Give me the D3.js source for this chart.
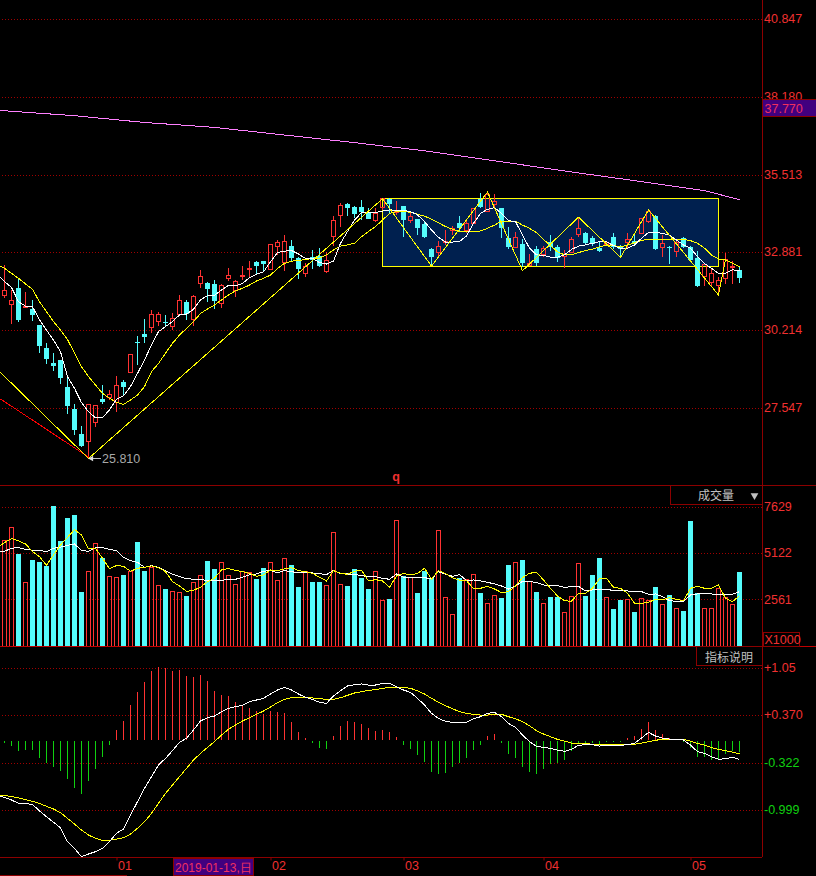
<!DOCTYPE html>
<html lang="zh">
<head>
  <meta charset="UTF-8">
  <title>K线</title>
  <script src="https://d3js.org/d3.v7.min.js"></script>
  <style>
    body { margin: 0; background: #000; }
    svg { display: block; font-family: "Liberation Sans", Arial, sans-serif; font-size: 12.5px; }
    .cjk { font-family: "Noto Sans CJK SC", sans-serif; font-size: 12px; fill: #c0c0c0; }
    .axis .domain { display: none; }
    .axis .tick line { stroke: #a00000; stroke-dasharray: 1 2; shape-rendering: crispEdges; }
    .line { fill: none; stroke-width: 1; shape-rendering: crispEdges; }
    .crisp { shape-rendering: crispEdges; }
  </style>
</head>
<body>
  <div id="chart"></div>
  <script>
    const open = [31.40,31.07,31.64,30.99,30.91,30.37,29.59,29.07,29.18,28.26,
      27.50,26.65,26.39,27.04,27.84,27.88,27.72,28.43,28.75,29.79,
      30.07,30.28,30.48,30.48,30.31,30.74,31.16,30.57,31.79,31.81,
      31.78,31.12,31.95,31.56,32.05,32.29,32.53,32.56,32.28,33.05,
      32.51,33.07,32.67,32.14,32.70,32.73,32.22,33.39,34.11,34.51,
      34.41,34.41,34.24,33.96,34.39,34.68,34.24,34.44,33.96,34.00,
      33.83,32.97,32.87,33.20,33.59,33.86,33.59,33.86,34.68,34.27,
      34.51,34.37,33.35,33.04,33.14,32.41,32.97,32.77,33.21,33.04,
      32.70,32.87,33.46,33.52,33.35,33.01,33.11,33.38,33.07,33.21,
      33.25,33.52,33.93,34.10,33.04,33.05,32.90,33.35,33.04,32.67,
      32.02,31.84,31.74,31.95,32.36,32.26];
    const close = [31.56,31.22,30.55,31.02,30.72,29.66,29.21,28.97,28.55,27.61,
      26.78,26.24,27.66,27.63,27.74,28.00,28.31,28.26,29.38,29.76,
      29.96,30.74,30.74,30.44,30.60,31.22,30.74,31.35,32.04,31.61,
      31.20,31.73,32.06,31.87,32.08,32.32,32.39,32.47,33.14,33.20,
      33.24,32.67,32.29,32.39,32.60,32.39,32.59,33.95,34.47,34.37,
      34.17,34.24,34.00,34.17,34.69,34.51,34.27,33.96,34.10,33.69,
      33.38,32.70,33.07,33.23,33.66,33.69,33.83,34.37,34.41,34.82,
      34.60,33.69,33.04,33.35,32.49,32.48,32.49,33.00,33.04,32.67,
      32.80,33.31,33.68,33.18,33.14,32.90,33.21,33.04,32.97,33.30,
      33.18,34.02,34.27,32.97,33.17,33.02,33.21,33.04,32.60,31.71,
      32.43,32.14,31.90,32.60,32.38,31.98];
    const high = [32.43,31.57,31.97,31.50,31.23,30.37,29.76,29.42,29.18,28.60,
      27.67,26.92,27.66,27.63,28.32,28.15,28.63,28.50,29.38,30.00,
      30.58,30.89,30.82,30.72,30.79,31.40,31.23,31.39,32.26,31.84,
      31.91,31.77,32.32,31.91,32.39,32.56,32.56,32.56,33.14,33.28,
      33.45,33.28,32.70,32.48,32.94,33.01,32.87,34.10,34.55,34.55,
      34.44,34.65,34.37,34.37,34.72,34.72,34.61,34.44,34.24,34.00,
      33.90,33.01,33.25,33.62,33.76,34.10,33.96,34.37,34.89,34.92,
      34.85,34.37,33.73,33.55,33.31,32.80,33.07,33.07,33.45,33.11,
      32.94,33.38,34.06,33.57,33.42,33.25,33.25,33.52,33.11,33.52,
      33.45,34.04,34.31,34.14,33.45,33.07,33.31,33.38,33.07,32.90,
      32.48,32.31,32.03,32.84,32.56,32.39];
    const low = [31.29,30.41,30.48,30.96,30.51,29.42,29.04,28.80,28.36,27.33,
      26.61,26.22,25.81,26.89,27.67,27.81,27.40,27.98,28.75,29.01,
      29.76,30.10,30.34,30.34,30.20,30.72,30.55,30.34,31.64,31.16,
      30.92,30.96,31.88,31.32,31.91,31.98,32.12,32.19,32.28,32.77,
      32.22,32.53,31.95,32.03,32.29,32.36,32.15,33.07,33.73,34.10,
      34.03,33.96,33.99,33.90,34.31,34.19,34.14,33.38,33.86,33.45,
      33.35,32.39,32.73,33.11,33.45,33.55,33.52,33.83,34.37,34.24,
      34.41,33.35,32.97,33.01,32.35,32.39,32.39,32.71,32.90,32.53,
      32.33,32.82,33.39,33.11,33.07,32.87,33.07,32.97,32.73,33.01,
      33.07,33.49,33.85,32.94,32.69,32.46,32.69,33.01,32.56,31.67,
      31.71,31.69,31.40,31.78,31.78,31.81];

    // the line series below start one bar before the first candle, off the left edge
    const priceWhite = [32.11,31.86,31.66,31.17,31.02,31.00,30.55,30.20,29.86,29.46,28.61,
      28.21,27.72,27.41,27.20,27.21,27.47,27.84,27.95,28.27,28.72,
      29.18,29.69,30.15,30.32,30.49,30.72,30.75,30.91,31.23,31.38,
      31.39,31.57,31.73,31.71,31.80,31.99,32.11,32.19,32.54,32.85,
      32.90,32.92,32.80,32.65,32.65,32.51,32.46,32.56,33.17,33.57,
      33.96,34.22,34.22,34.22,34.27,34.31,34.30,34.30,34.25,34.14,
      33.91,33.62,33.37,33.21,33.21,33.23,33.42,33.85,34.19,34.33,
      34.39,34.19,33.94,33.91,33.45,33.00,32.77,32.76,32.69,32.69,
      32.77,32.96,33.07,33.11,33.17,33.22,33.22,33.09,33.00,33.00,
      33.11,33.34,33.54,33.54,33.51,33.45,33.28,33.11,33.00,32.71,
      32.48,32.31,32.14,32.14,32.26,32.23];
    const priceYellow = [32.43,32.31,32.14,31.97,31.78,31.59,31.17,30.83,30.49,30.20,29.88,
      29.41,28.95,28.61,28.32,28.04,27.87,27.73,27.66,27.81,27.98,
      28.27,28.78,29.06,29.41,29.75,30.03,30.26,30.49,30.77,30.92,
      31.06,31.23,31.40,31.54,31.63,31.74,31.88,31.97,32.08,32.31,
      32.48,32.56,32.57,32.62,32.64,32.65,32.77,32.94,33.07,33.11,
      33.17,33.39,33.57,33.74,33.96,34.19,34.25,34.25,34.23,34.16,
      34.10,33.99,33.87,33.74,33.65,33.57,33.57,33.57,33.59,33.68,
      33.79,33.92,33.93,33.93,33.79,33.68,33.53,33.30,33.09,32.88,
      32.77,32.77,32.85,32.92,32.97,33.05,33.10,33.09,33.05,33.10,
      33.19,33.27,33.30,33.30,33.30,33.30,33.30,33.30,33.26,33.17,
      33.00,32.77,32.63,32.60,32.48,32.37];

    const pinkIdx = [-0.6,10,20,30,40,50,60,70,80,90,100,105];
    const pinkPrice = [37.71,37.53,37.30,37.13,36.87,36.61,36.33,35.99,35.64,35.31,34.97,34.66];
    const pivotIdx = [-0.6,12,54,61,69,74,82,88,92,102,103,105];
    const pivotPrice = [28.76,25.81,34.69,32.39,34.92,32.23,34.06,32.69,34.31,31.40,32.60,32.37];
    const trendIdx = [-0.6,12.5];
    const trendPrice = [27.85,25.78];
    const boxIdx = [54,102];
    const boxPrice = [34.70,32.38];

    const volume = [5795,6508,5045,3491,4716,4607,4387,7678,5758,7020,
      7184,2961,4095,5630,4826,3821,3766,3894,4095,5703,
      4113,4314,3327,3126,2998,2943,2742,3491,3875,4661,
      4223,4588,3875,3382,4095,4040,3674,4278,4588,3601,
      4808,4442,3236,4058,3510,3510,3327,6233,3382,3290,
      4223,3729,3126,4095,2504,2577,6892,3839,3729,2907,
      4113,3729,6343,2669,1737,3729,3619,3930,2907,2340,
      2779,2632,4442,4588,4716,3546,2961,2340,2687,2687,
      1846,2724,4533,2742,3894,4826,2669,2029,2523,2559,
      1865,2614,2504,3236,2285,2797,2066,1919,6855,2888,
      2066,2066,3126,2669,2285,4058];
    const volWhite = [5155,5192,5356,5393,5301,5246,5246,5173,5356,5411,5521,
      5594,5228,5192,5393,5393,5301,5228,4862,4680,4588,
      4314,4405,4314,4131,3930,3802,3693,3656,3656,3583,
      3565,3601,3638,3656,3766,3894,3948,4095,4131,4022,
      4131,4076,4003,4040,4003,3967,3912,4150,3967,3948,
      3930,3857,3802,3802,3711,3656,3948,3766,3747,3747,
      3747,3674,4076,3930,3821,3912,3601,3619,3565,3491,
      3400,3290,3126,3290,3546,3546,3473,3345,3290,3309,
      3217,3254,3272,3016,3071,3108,3089,3053,3016,3016,
      2998,2980,2833,2852,2705,2486,2450,2450,2797,2852,
      2852,2852,2833,2833,2833,2980];
    const volYellow = [5393,5667,5886,5758,5594,5173,4899,4424,4990,5539,5959,
      6380,6087,5338,5356,4808,4241,4405,4369,4095,4259,
      4314,4387,4296,4076,3528,3290,2998,3053,3217,3528,
      3711,4168,4241,4150,4076,3985,3821,3894,4168,4131,
      4223,4296,4131,4076,3985,3766,3565,4131,3985,3930,
      4095,4150,3565,3638,3565,3217,3839,3967,3912,3967,
      4259,3674,4131,3967,3729,3601,3583,3144,3162,3272,
      3126,2925,2980,3290,3747,3985,4040,3619,3162,2742,
      2486,2450,2888,2888,3162,3693,3711,3217,3162,2888,
      2340,2340,2395,2559,2523,2651,2559,2486,3162,3272,
      3162,3162,3345,2614,2431,2760];

    const macdBar = [-0.03,-0.065,-0.147,-0.123,-0.123,-0.238,-0.32,-0.378,-0.426,-0.541,
      -0.671,-0.758,-0.57,-0.397,-0.224,-0.05,0.152,0.281,0.512,0.70,
      0.844,1.003,1.06,1.046,1.003,1.017,0.931,0.916,0.945,0.859,
      0.714,0.657,0.642,0.556,0.512,0.469,0.426,0.382,0.426,0.411,
      0.397,0.267,0.123,0.036,-0.022,-0.094,-0.108,0.065,0.209,0.281,
      0.267,0.238,0.18,0.137,0.152,0.123,0.05,-0.05,-0.108,-0.195,
      -0.296,-0.44,-0.469,-0.455,-0.368,-0.31,-0.238,-0.123,-0.05,0.065,
      0.094,-0.022,-0.18,-0.238,-0.368,-0.44,-0.469,-0.397,-0.325,-0.31,
      -0.267,-0.137,-0.036,-0.022,-0.022,-0.036,-0.01,-0.01,-0.01,0.036,
      0.065,0.161,0.267,0.152,0.094,0.03,0.005,-0.005,-0.1,-0.233,
      -0.233,-0.267,-0.267,-0.18,-0.137,-0.151];
    const macdWhite = [-0.804,-0.824,-0.862,-0.91,-0.915,-0.925,-1.021,-1.103,-1.184,-1.261,-1.463,
      -1.56,-1.68,-1.641,-1.608,-1.56,-1.463,-1.343,-1.28,-1.079,-0.886,
      -0.694,-0.526,-0.357,-0.261,-0.15,-0.03,0.028,0.148,0.278,0.326,
      0.35,0.412,0.461,0.485,0.504,0.557,0.581,0.605,0.668,0.725,
      0.764,0.725,0.667,0.619,0.59,0.547,0.533,0.639,0.716,0.783,
      0.802,0.812,0.797,0.797,0.821,0.821,0.773,0.725,0.691,0.605,
      0.509,0.388,0.316,0.273,0.259,0.259,0.259,0.311,0.34,0.388,
      0.403,0.34,0.244,0.186,0.076,-0.02,-0.088,-0.102,-0.117,-0.141,
      -0.16,-0.131,-0.073,-0.064,-0.064,-0.083,-0.069,-0.073,-0.073,-0.064,
      -0.045,0.032,0.114,0.061,0.032,0.018,0.013,0.004,-0.069,-0.165,
      -0.189,-0.237,-0.275,-0.266,-0.246,-0.275];
    const macdYellow = [-0.795,-0.80,-0.809,-0.833,-0.857,-0.881,-0.91,-0.954,-0.992,-1.045,-1.127,
      -1.209,-1.295,-1.367,-1.415,-1.444,-1.444,-1.425,-1.406,-1.353,-1.271,
      -1.175,-1.055,-0.91,-0.766,-0.646,-0.526,-0.405,-0.285,-0.189,-0.102,
      -0.02,0.076,0.158,0.22,0.278,0.326,0.374,0.422,0.48,0.542,
      0.59,0.614,0.619,0.619,0.61,0.60,0.59,0.59,0.614,0.648,
      0.682,0.701,0.72,0.73,0.749,0.764,0.764,0.764,0.749,0.715,
      0.667,0.605,0.547,0.499,0.456,0.412,0.388,0.374,0.364,0.364,
      0.374,0.374,0.34,0.311,0.268,0.21,0.138,0.09,0.052,0.013,
      -0.011,-0.04,-0.045,-0.045,-0.059,-0.064,-0.064,-0.064,-0.064,-0.059,
      -0.059,-0.04,-0.02,0,0.013,0.013,0.013,0.013,-0.011,-0.045,
      -0.069,-0.107,-0.131,-0.15,-0.17,-0.198];

    const priceTicks = [40.847,38.180,35.513,32.881,30.214,27.547];
    const volTicks = [7629,5122,2561];
    const macdTicks = [1.05,0.370,-0.322,-0.999];
    const macdTickLabels = ["+1.05","+0.370","-0.322","-0.999"];
    const monthIdx = [16,38,57,77,98];
    const monthLabels = ["01","02","03","04","05"];
    const lowLabel = "25.810";
    const lastLabel = "37.770";
    const dateLabel = "2019-01-13,日";

    const RED = "#ff3232", CYAN = "#54fcfc", FRAME = "#8c0000", PURPLE = "#41007f", LABEL = "#f03030";
    const W = 816, H = 876, plotRight = 762;

    const svg = d3.select("#chart").append("svg").attr("width", W).attr("height", H);

    const x = d3.scaleLinear().domain([0, 105]).range([4.5, 739.5]);
    const yPrice = d3.scaleLinear().domain([27.547, 40.847]).range([407.7, 18.7]);
    const yVol = d3.scaleLinear().domain([0, 7629]).range([646, 506.8]);
    const yMacd = d3.scaleLinear().domain([-0.999, 1.05]).range([809.5, 667.5]);

    function drawAxis(scale, ticks, format, color) {
      const g = svg.append("g")
        .attr("class", "axis")
        .attr("transform", `translate(${plotRight},0)`)
        .call(d3.axisRight(scale).tickValues(ticks).tickFormat(format)
          .tickSizeInner(-plotRight).tickSizeOuter(0).tickPadding(2))
        .attr("font-family", null).attr("font-size", null);
      g.selectAll("text").attr("fill", color);
      return g;
    }
    drawAxis(yPrice, priceTicks, d3.format(".3f"), LABEL);
    drawAxis(yVol, volTicks, d3.format("d"), LABEL);
    drawAxis(yMacd, macdTicks, (d, i) => macdTickLabels[i], (d) => d > 0 ? LABEL : "#10d010");

    // consolidation box
    svg.append("rect")
      .attr("class", "crisp")
      .attr("x", x(boxIdx[0])).attr("y", yPrice(boxPrice[0]))
      .attr("width", x(boxIdx[1]) - x(boxIdx[0]))
      .attr("height", yPrice(boxPrice[1]) - yPrice(boxPrice[0]))
      .attr("fill", "#00204f").attr("stroke", "#ffff00");

    const bars = d3.range(open.length);
    const isUp = i => close[i] >= open[i];
    const candleColor = i => isUp(i) ? RED : CYAN;

    // candles: wicks stop at the body, red bodies stay hollow
    const candle = svg.append("g").attr("class", "crisp");
    candle.selectAll(".upper").data(bars).enter().append("line")
      .attr("x1", i => x(i)).attr("x2", i => x(i))
      .attr("y1", i => yPrice(high[i])).attr("y2", i => yPrice(Math.max(open[i], close[i])))
      .attr("stroke", candleColor);
    candle.selectAll(".lower").data(bars).enter().append("line")
      .attr("x1", i => x(i)).attr("x2", i => x(i))
      .attr("y1", i => yPrice(Math.min(open[i], close[i]))).attr("y2", i => yPrice(low[i]))
      .attr("stroke", candleColor);
    candle.selectAll(".body").data(bars).enter().append("rect")
      .attr("x", i => isUp(i) ? x(i) - 2 : x(i) - 2.5)
      .attr("width", i => isUp(i) ? 4 : 5)
      .attr("y", i => yPrice(Math.max(open[i], close[i])))
      .attr("height", i => Math.max(1, Math.abs(yPrice(open[i]) - yPrice(close[i]))))
      .attr("fill", i => isUp(i) ? "none" : CYAN)
      .attr("stroke", i => isUp(i) ? RED : "none");

    const seriesLine = y => d3.line().x((d, i) => x(i - 1)).y(d => y(d));
    const pointLine = d3.line().x(d => x(d[0])).y(d => yPrice(d[1]));

    function drawLine(path, color) {
      svg.append("path").attr("class", "line").attr("d", path).attr("stroke", color);
    }
    drawLine(pointLine(d3.zip(trendIdx, trendPrice)), "#ff0000");
    drawLine(pointLine(d3.zip(pinkIdx, pinkPrice)), "#ff80ff");
    drawLine(seriesLine(yPrice)(priceYellow), "#ffff00");
    drawLine(seriesLine(yPrice)(priceWhite), "#ffffff");
    drawLine(pointLine(d3.zip(pivotIdx, pivotPrice)), "#ffff00");

    // low marker
    const lowX = x(12), lowY = yPrice(25.81);
    svg.append("line").attr("class", "crisp")
      .attr("x1", lowX + 1).attr("x2", lowX + 12).attr("y1", lowY).attr("y2", lowY)
      .attr("stroke", "#c0c0c0");
    svg.append("path").attr("d", d3.symbol(d3.symbolTriangle, 14)())
      .attr("transform", `translate(${lowX + 3},${lowY}) rotate(-90)`)
      .attr("fill", "#e0e0e0");
    svg.append("text").attr("x", lowX + 13.5).attr("y", lowY + 4.5)
      .attr("fill", "#a8a8a8").text(lowLabel);

    svg.append("text").attr("x", 396).attr("y", 481).attr("text-anchor", "middle")
      .attr("fill", LABEL).attr("font-weight", "bold").text("q");

    // volume
    const vol = svg.append("g").attr("class", "crisp");
    vol.selectAll("rect").data(bars).enter().append("rect")
      .attr("x", i => isUp(i) ? x(i) - 2 : x(i) - 2.5)
      .attr("width", i => isUp(i) ? 4 : 5)
      .attr("y", i => yVol(volume[i]))
      .attr("height", i => yVol(0) - yVol(volume[i]))
      .attr("fill", i => isUp(i) ? "none" : CYAN)
      .attr("stroke", i => isUp(i) ? RED : "none");
    drawLine(seriesLine(yVol)(volWhite), "#ffffff");
    drawLine(seriesLine(yVol)(volYellow), "#ffff00");

    // macd histogram
    const macdG = svg.append("g").attr("class", "crisp");
    macdG.selectAll("line").data(bars).enter().append("line")
      .attr("x1", i => x(i)).attr("x2", i => x(i))
      .attr("y1", i => macdBar[i] > 0 ? yMacd(0) : yMacd(0) + 1)
      .attr("y2", i => yMacd(macdBar[i]) + (macdBar[i] > 0 ? 0 : 1))
      .attr("stroke", i => macdBar[i] > 0 ? RED : "#10d010");
    drawLine(seriesLine(yMacd)(macdYellow), "#ffff00");
    drawLine(seriesLine(yMacd)(macdWhite), "#ffffff");

    // frame
    const frame = svg.append("g").attr("class", "crisp").attr("stroke", FRAME).attr("fill", "none");
    frame.append("line").attr("x1", plotRight + 0.5).attr("x2", plotRight + 0.5).attr("y1", 0).attr("y2", 857);
    frame.append("line").attr("x1", 0).attr("x2", W).attr("y1", 485.5).attr("y2", 485.5);
    frame.append("line").attr("x1", 0).attr("x2", W).attr("y1", 646.5).attr("y2", 646.5).attr("stroke", "#c00000");
    frame.append("line").attr("x1", 0).attr("x2", 127).attr("y1", 875.5).attr("y2", 875.5);
    frame.append("rect").attr("x", 670.5).attr("y", 485.5).attr("width", 92).attr("height", 19);
    frame.append("rect").attr("x", 696.5).attr("y", 646.5).attr("width", 66).attr("height", 19);
    frame.append("rect").attr("x", 763.5).attr("y", 632.5).attr("width", 36).attr("height", 14);

    svg.append("text").attr("class", "cjk").attr("x", 716).attr("y", 500).attr("text-anchor", "middle").text("成交量");
    svg.append("path").attr("d", d3.symbol(d3.symbolTriangle, 26)())
      .attr("transform", "translate(754.5,495.5) rotate(180)").attr("fill", "#c0c0c0");
    svg.append("text").attr("class", "cjk").attr("x", 729).attr("y", 662).attr("text-anchor", "middle").text("指标说明");
    svg.append("text").attr("x", 764.5).attr("y", 644).attr("fill", LABEL).text("X1000");

    // time axis
    const timeAxis = svg.append("g")
      .attr("transform", "translate(0,857.5)")
      .call(d3.axisBottom(x).tickValues(monthIdx).tickFormat((d, i) => monthLabels[i]).tickSize(3).tickPadding(1))
      .attr("font-family", null).attr("font-size", null);
    timeAxis.select(".domain").remove();
    timeAxis.selectAll("line").attr("stroke", FRAME);
    timeAxis.selectAll("text")
      .attr("fill", LABEL).attr("text-anchor", "start").attr("x", 1).attr("y", 1).attr("dy", "0.95em");
    svg.append("line").attr("class", "crisp").attr("x1", 0).attr("x2", plotRight)
      .attr("y1", 857.5).attr("y2", 857.5).attr("stroke", FRAME);

    // flags
    svg.append("rect").attr("class", "crisp").attr("x", 173.5).attr("y", 858.5).attr("width", 80).attr("height", 17)
      .attr("fill", PURPLE).attr("stroke", FRAME);
    svg.append("text").attr("x", 175).attr("y", 871.5).attr("fill", "#f03060").attr("font-size", 12).text(dateLabel);
    svg.append("rect").attr("class", "crisp").attr("x", 762.5).attr("y", 99.5).attr("width", 54).attr("height", 17)
      .attr("fill", PURPLE).attr("stroke", FRAME);
    svg.append("text").attr("x", 764.5).attr("y", 112.5).attr("fill", "#f03060").text(lastLabel);
  </script>
</body>
</html>
